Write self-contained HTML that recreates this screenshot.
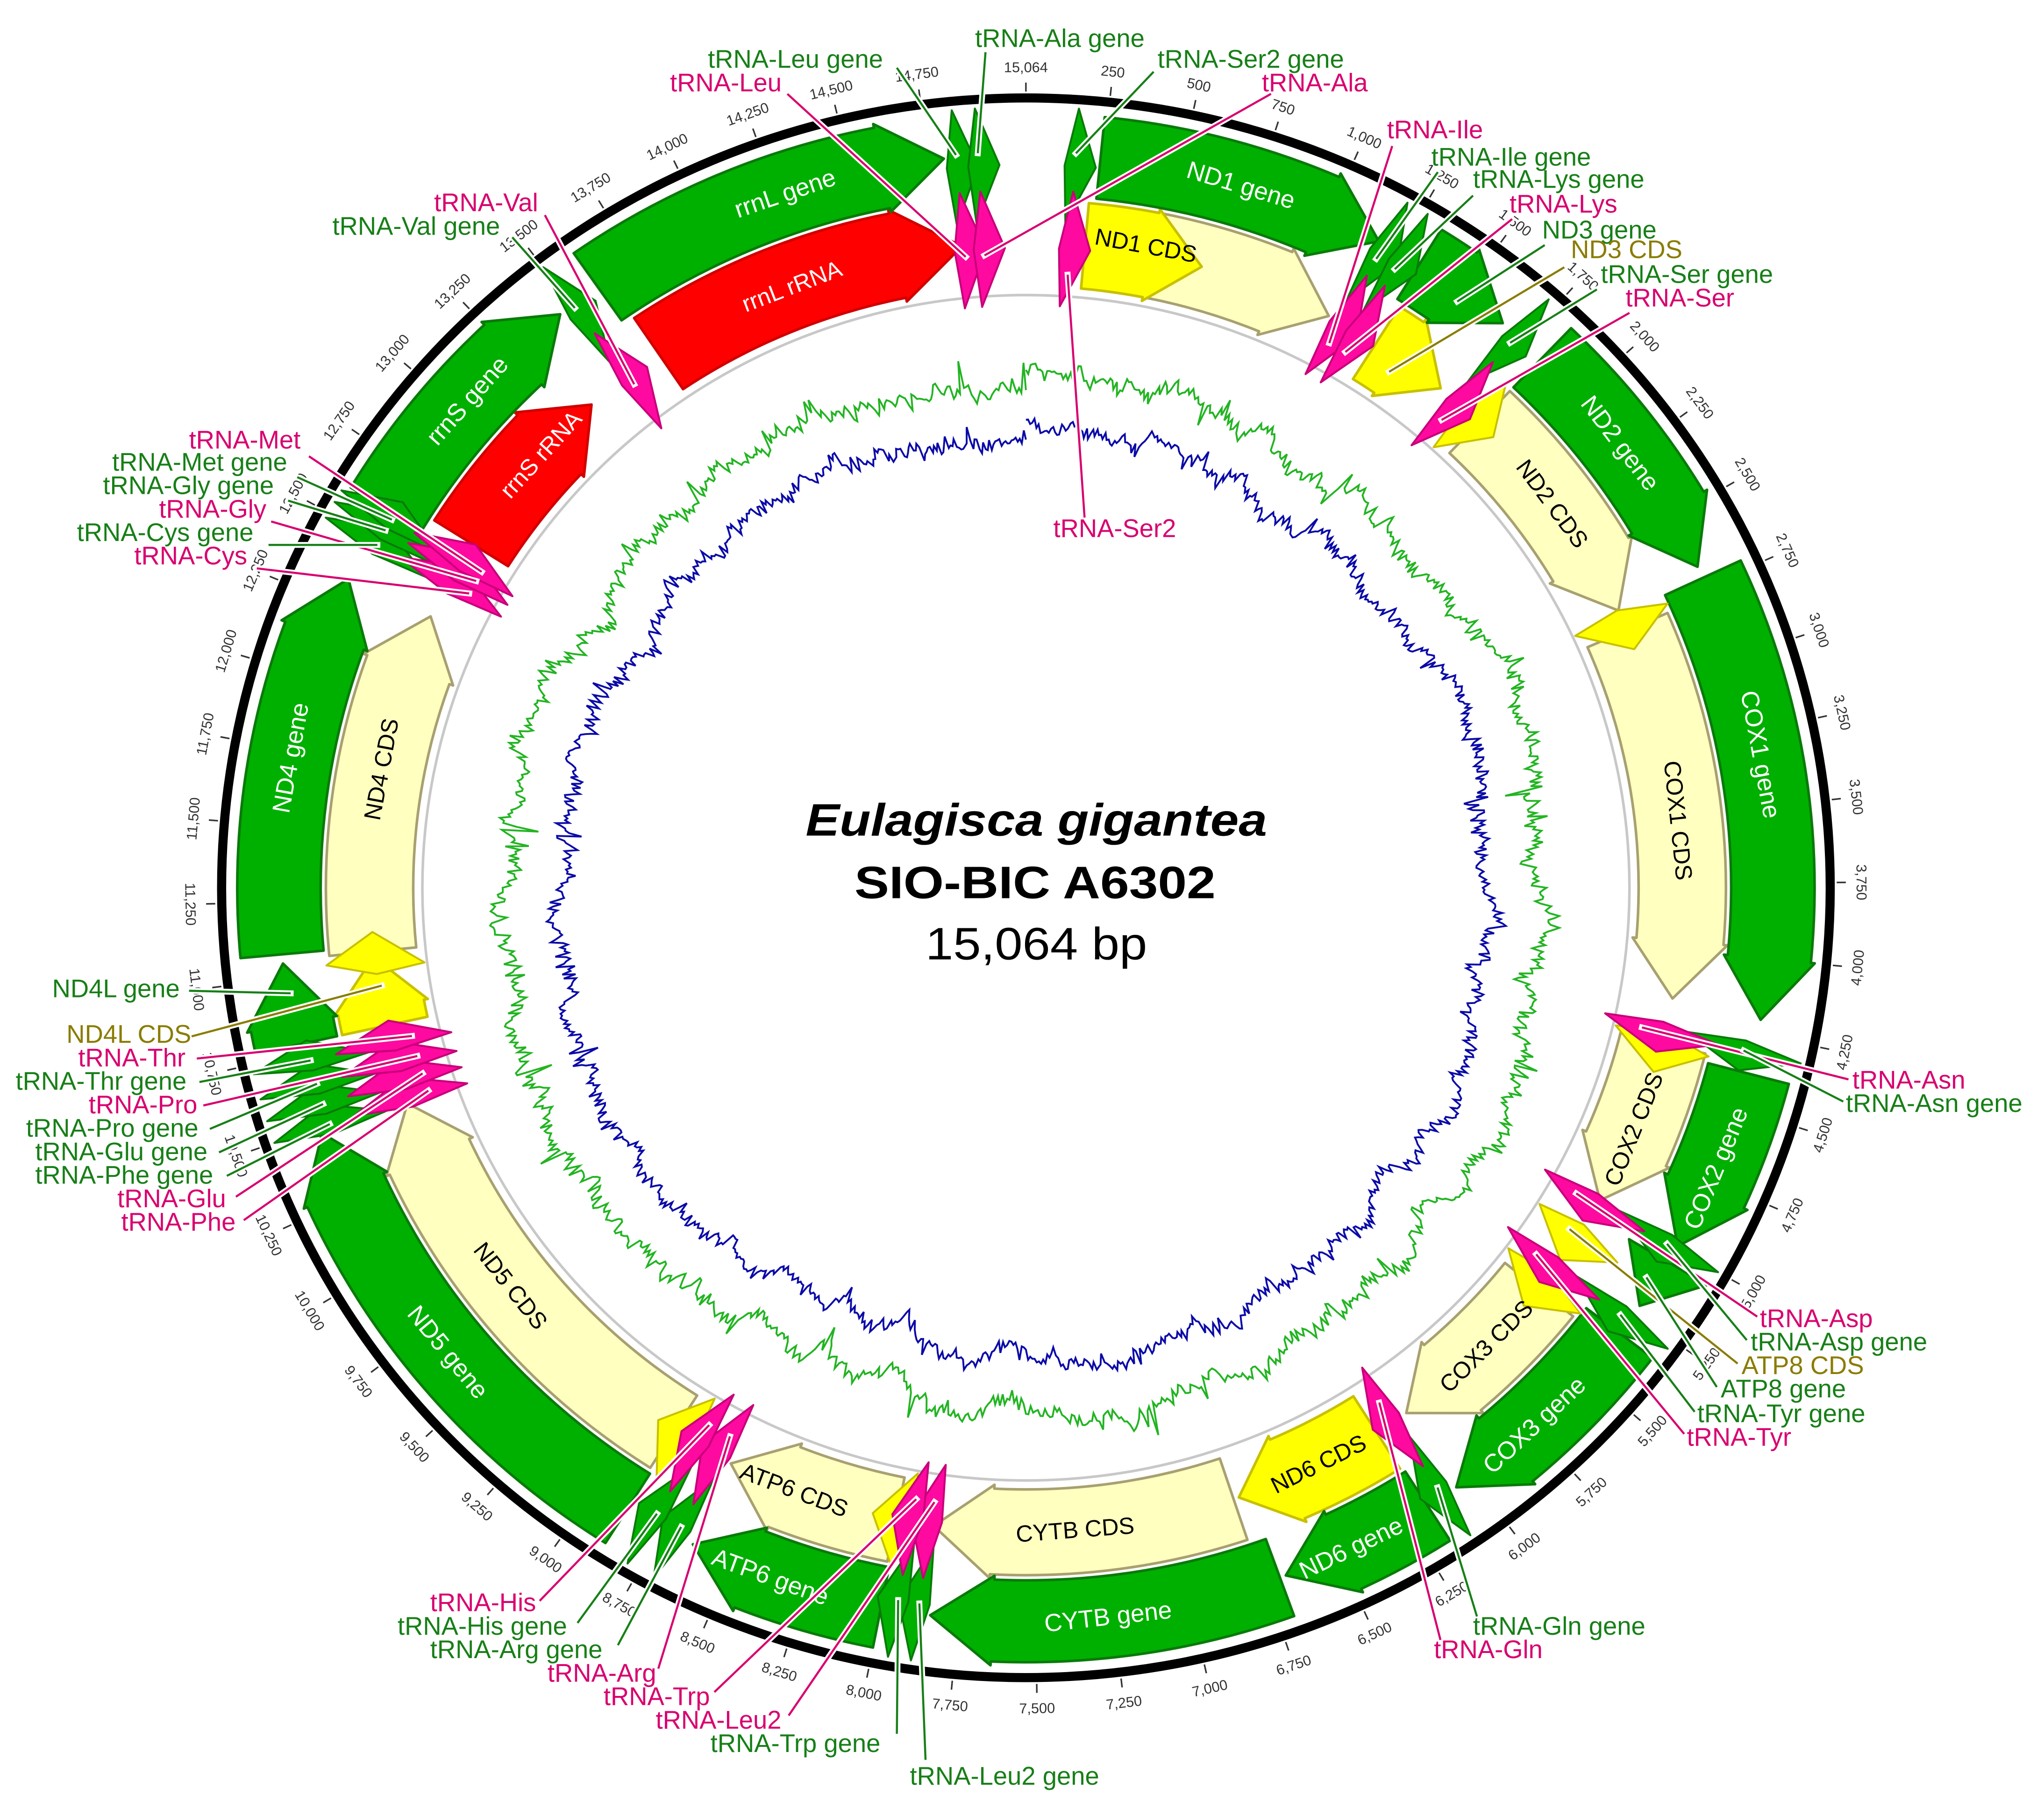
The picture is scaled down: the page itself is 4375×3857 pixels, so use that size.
<!DOCTYPE html>
<html><head><meta charset="utf-8">
<style>html,body{margin:0;padding:0;background:#fff;}svg{display:block;}</style>
</head><body>
<svg id="s" xmlns="http://www.w3.org/2000/svg" width="4375" height="3857" viewBox="0 0 1568 1382.3" font-family="Liberation Sans, Arial, sans-serif">
<rect width="1568" height="1382.3" fill="#fff"/>
<g id="g"></g>
<text x="795" y="641" text-anchor="middle" font-size="35" font-weight="bold" font-style="italic" textLength="354" lengthAdjust="spacingAndGlyphs">Eulagisca gigantea</text>
<text x="794" y="689" text-anchor="middle" font-size="35" font-weight="bold" textLength="277" lengthAdjust="spacingAndGlyphs">SIO-BIC A6302</text>
<text x="795" y="736" text-anchor="middle" font-size="35" textLength="170" lengthAdjust="spacingAndGlyphs">15,064 bp</text>
</svg>
<script>
(function(){
var L=15064,cx=787,cy=681,K=0.982,NS="http://www.w3.org/2000/svg";
var G=document.getElementById('g');
function el(t,a,txt){var e=document.createElementNS(NS,t);for(var k in a)e.setAttribute(k,a[k]);if(txt!==undefined)e.textContent=txt;G.appendChild(e);return e;}
function ang(bp){return bp/L*2*Math.PI;}
function P(bp,r){var a=ang(bp);return [cx+r*Math.sin(a),cy-r*Math.cos(a)*K];}
function f(p){return p[0].toFixed(2)+','+p[1].toFixed(2);}
function px2bp(px,r){return px/r/(2*Math.PI)*L;}
el('ellipse',{cx:cx,cy:cy,rx:463,ry:463*K,fill:'none',stroke:'#c8c8c8','stroke-width':2});
el('ellipse',{cx:cx,cy:cy,rx:617,ry:617*K,fill:'none',stroke:'#000','stroke-width':7});
var seed=12345;function rnd(){seed=(seed*1103515245+12345)%2147483648;return seed/2147483648;}
var N=1400,w=0,pg=[],pb=[];
for(var i=0;i<=N;i++){var bp=i/N*L;w=w*0.96+(rnd()-0.5)*8;var sp=(rnd()<0.04)?(rnd()-0.5)*44:0;
var g=402+w+(rnd()-0.5)*10+sp, b=360+w*0.9+(rnd()-0.5)*9+sp*0.6;
pg.push(f(P(bp,g)));pb.push(f(P(bp,b)));}
el('polyline',{points:pb.join(' '),fill:'none',stroke:'#0a0aa8','stroke-width':1.4});
el('polyline',{points:pg.join(' '),fill:'none',stroke:'#22b422','stroke-width':1.4});
function arrow(s,e,r1,r2,fill,stroke,head){
 var rm=(r1+r2)/2;var hb=e-px2bp(head||42,rm);if(hb<s)hb=s;
 var large=((hb-s)/L>0.5)?1:0;
 var d='M'+f(P(s,r2))+' A'+r2+','+(r2*K)+' 0 '+large+' 1 '+f(P(hb,r2))+' L'+f(P(hb,r2+3))+' L'+f(P(e,rm))+' L'+f(P(hb,r1-3))+' L'+f(P(hb,r1))+' A'+r1+','+(r1*K)+' 0 '+large+' 0 '+f(P(s,r1))+' Z';
 el('path',{d:d,fill:fill,stroke:stroke,'stroke-width':2,'stroke-linejoin':'round'});
}
var GR='#00b000',GS='#0a7a0a',PALE='#ffffc0',PS='#a8a070',YE='#ffff00',YS='#c8c000',RED='#ff0000',RS='#d00000';
var cds=[[300,1150],[1830,2700],[2780,4180],[4350,4980],[5380,6050],[6760,7870],[8010,8650],[8890,10480],[11060,12340]];
cds.forEach(function(c){arrow(c[0],c[1],470,537,PALE,PS,45);});
arrow(12650,13330,470,537,RED,RS,45);
arrow(13640,14830,470,537,RED,RS,50);
arrow(216,650,470,537,YE,YS,40);
arrow(1350,1640,470,537,YE,YS,40);
arrow(6180,6740,470,537,YE,YS,40);
arrow(10780,11040,470,537,YE,YS,40);
var genes=[[240,1180],[1330,1660],[1830,2680],[2720,4200],[4380,4990],[5050,5220],[5330,6060],[6170,6680],[6700,7840],[8000,8640],[8880,10480],[10780,11050],[11080,12340],[12600,13450],[13600,14800]];
genes.forEach(function(c){arrow(c[0],c[1],541,605,GR,GS,48);});
function kite(bp,rO,rI,wpx,fill,stroke){
 var rm=(rO+rI)/2,wb=px2bp(wpx,rm);
 var d='M'+f(P(bp,rO))+' L'+f(P(bp+wb,rm))+' L'+f(P(bp-wb*0.3,rI))+' L'+f(P(bp-wb*0.5,rm))+' Z';
 el('path',{d:d,fill:fill,stroke:stroke,'stroke-width':1.5,'stroke-linejoin':'round'});
}
[1800,2750,4357,5140,5357,7993,8856,11028].forEach(function(b){kite(b,540,465,22,YE,YS);});
var T={Ser2:160,Ile:1200,Lys:1270,Ser:1720,Asn:4310,Asp:5000,Tyr:5280,Gln:6110,Leu2:7880,Trp:7950,Arg:8700,His:8790,Phe:10500,Glu:10570,Pro:10640,Thr:10720,Cys:12482,Gly:12537,Met:12578,Val:13500,Leu:14840,Ala:14910};
for(var k in T){kite(T[k],610,520,16,GR,GS);}
for(var k in T){kite(T[k],545,455,16,'#ff0aa0','#c8007a');}
for(var t=0;t<15064;t+=250){
 if(t===15000)continue;
 var a=t/L*360;var p1=P(t,622),p2=P(t,629);
 el('line',{x1:p1[0],y1:p1[1],x2:p2[0],y2:p2[1],stroke:'#333','stroke-width':1.2});
 var lab=(t===0)?'15,064':t.toLocaleString('en-US');
 var q=P(t,641);var rot=(a<=90||a>=270)?a:a-180;
 el('text',{x:q[0],y:q[1],'font-size':11,fill:'#333','text-anchor':'middle','dominant-baseline':'central',transform:'rotate('+rot.toFixed(2)+' '+q[0].toFixed(2)+' '+q[1].toFixed(2)+')'},lab);
}
function tl(bp,r,txt,col,size){var a=bp/L*360;var q=P(bp,r);var rot=(a<=90||a>=270)?a:a-180;
 el('text',{x:q[0],y:q[1],'font-size':size||19,fill:col,'text-anchor':'middle','dominant-baseline':'central',transform:'rotate('+rot.toFixed(2)+' '+q[0].toFixed(2)+' '+q[1].toFixed(2)+')'},txt);}
var W='#fff',B='#000';
tl(700,573,'ND1 gene',W);tl(14277,573,'rrnL gene',W);tl(13039,573,'rrnS gene',W);tl(2205,573,'ND2 gene',W);
tl(3328,573,'COX1 gene',W);tl(4707,573,'COX2 gene',W);tl(5737,573,'COX3 gene',W);tl(6452,573,'ND6 gene',W);
tl(7268,573,'CYTB gene',W);tl(8369,573,'ATP6 gene',W);tl(9654,573,'ND5 gene',W);tl(11725,573,'ND4 gene',W);
tl(435,510,'ND1 CDS',B,18);tl(2234,503,'ND2 CDS',B,18);tl(3515,503,'COX1 CDS',B,18);tl(4687,503,'COX2 CDS',B,18);
tl(5666,503,'COX3 CDS',B,18);tl(6423,503,'ND6 CDS',B,18);tl(7352,503,'CYTB CDS',B,18);tl(8398,503,'ATP6 CDS',B,18);
tl(9700,503,'ND5 CDS',B,18);tl(11742,503,'ND4 CDS',B,18);tl(14189,503,'rrnL rRNA',W,18);tl(13068,503,'rrnS rRNA',W,18);
var GT='#177f17',PT='#d8006f',OT='#8a7c00';
var labs=[
['tRNA-Ala gene',GT,748,36,756,40,T.Ala,575],
['tRNA-Leu gene',GT,543,52,688,52,T.Leu,575],
['tRNA-Leu',PT,514,70,604,72,T.Leu,495],
['tRNA-Ser2 gene',GT,888,52,885,55,T.Ser2,575],
['tRNA-Ala',PT,968,70,975,72,T.Ala,495],
['tRNA-Val',PT,333,162,418,165,T.Val,495],
['tRNA-Val gene',GT,255,180,393,182,T.Val,570],
['tRNA-Ile',PT,1064,106,1068,112,T.Ile,485],
['tRNA-Ile gene',GT,1098,127,1103,132,T.Ile,560],
['tRNA-Lys gene',GT,1130,144,1130,150,T.Lys,560],
['tRNA-Lys',PT,1158,163,1160,168,T.Lys,485],
['ND3 gene',GT,1183,183,1185,188,1500,565],
['ND3 CDS',OT,1205,198,1200,205,1450,490],
['tRNA-Ser gene',GT,1228,217,1225,222,T.Ser,565],
['tRNA-Ser',PT,1247,235,1250,240,T.Ser,485],
['tRNA-Ser2',PT,808,412,832,397,T.Ser2,480],
['tRNA-Met',PT,145,344,237,350,T.Met,485],
['tRNA-Met gene',GT,86,361,228,366,T.Met,565],
['tRNA-Gly gene',GT,79,379,221,384,T.Gly,565],
['tRNA-Gly',PT,122,397,208,400,T.Gly,485],
['tRNA-Cys gene',GT,59,415,206,418,T.Cys,565],
['tRNA-Cys',PT,103,433,197,436,T.Cys,485],
['ND4L gene',GT,40,765,145,760,10950,570],
['ND4L CDS',OT,51,800,147,795,10930,500],
['tRNA-Thr',PT,60,818,151,812,T.Thr,485],
['tRNA-Thr gene',GT,12,836,153,830,T.Thr,565],
['tRNA-Pro',PT,68,854,156,848,T.Pro,485],
['tRNA-Pro gene',GT,20,872,161,866,T.Pro,565],
['tRNA-Glu gene',GT,27,890,168,884,T.Glu,565],
['tRNA-Phe gene',GT,27,908,174,902,T.Phe,565],
['tRNA-Glu',PT,90,926,181,918,T.Glu,485],
['tRNA-Phe',PT,93,944,187,936,T.Phe,485],
['tRNA-Asn',PT,1421,835,1418,828,T.Asn,485],
['tRNA-Asn gene',GT,1416,853,1414,845,T.Asn,565],
['tRNA-Asp',PT,1350,1018,1348,1010,T.Asp,485],
['tRNA-Asp gene',GT,1343,1036,1340,1028,T.Asp,565],
['ATP8 CDS',OT,1336,1054,1333,1046,5130,495],
['ATP8 gene',GT,1320,1072,1317,1064,5130,565],
['tRNA-Tyr gene',GT,1302,1091,1300,1083,T.Tyr,565],
['tRNA-Tyr',PT,1294,1109,1292,1100,T.Tyr,485],
['tRNA-Gln gene',GT,1130,1254,1133,1240,T.Gln,565],
['tRNA-Gln',PT,1100,1272,1105,1258,T.Gln,485],
['tRNA-His',PT,330,1236,414,1228,T.His,485],
['tRNA-His gene',GT,305,1254,443,1245,T.His,565],
['tRNA-Arg gene',GT,330,1272,474,1262,T.Arg,565],
['tRNA-Arg',PT,420,1290,505,1280,T.Arg,485],
['tRNA-Trp',PT,463,1308,548,1298,T.Trp,485],
['tRNA-Leu2',PT,503,1326,605,1316,T.Leu2,485],
['tRNA-Trp gene',GT,545,1344,688,1330,T.Trp,565],
['tRNA-Leu2 gene',GT,698,1369,710,1350,T.Leu2,565]
];
labs.forEach(function(l){var q=P(l[6],l[7]);
 el('line',{x1:l[4],y1:l[5],x2:q[0],y2:q[1],stroke:'#fff','stroke-width':4.5,'stroke-linecap':'square'});
 el('line',{x1:l[4],y1:l[5],x2:q[0],y2:q[1],stroke:l[1],'stroke-width':1.6});
});
labs.forEach(function(l){el('text',{x:l[2],y:l[3],'font-size':19.5,fill:l[1]},l[0]);});
})();
</script>
</body></html>
